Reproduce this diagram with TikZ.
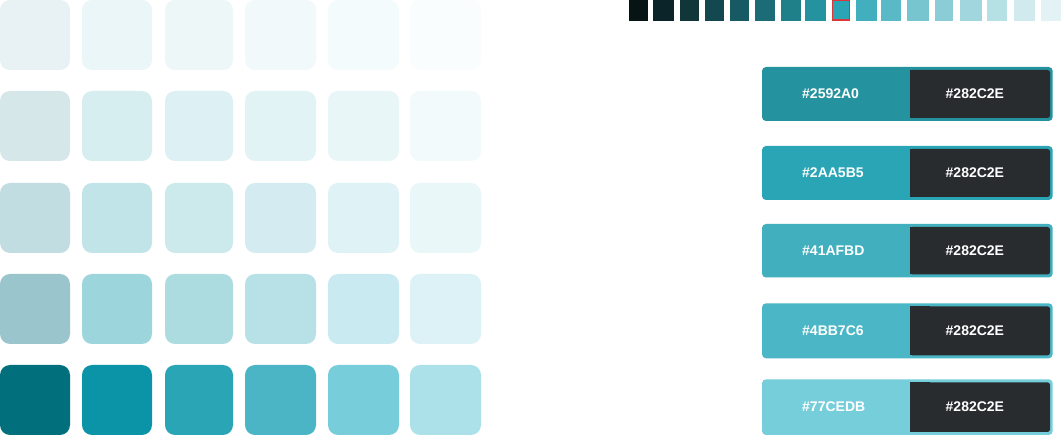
\documentclass[tikz,border=0pt]{standalone}
\usepackage{fontspec}
\setmainfont{Liberation Sans}
\tikzset{
  btntext/.style={text=white, font=\bfseries\fontsize{14}{15}\selectfont, inner sep=0pt, anchor=west},
}
% grid colours
\definecolor{g11}{HTML}{E8F2F4}\definecolor{g12}{HTML}{EAF6F8}\definecolor{g13}{HTML}{EEF7F8}
\definecolor{g14}{HTML}{F1F9FB}\definecolor{g15}{HTML}{F4FBFC}\definecolor{g16}{HTML}{F9FDFE}
\definecolor{g21}{HTML}{D6E7EA}\definecolor{g22}{HTML}{D7EEF0}\definecolor{g23}{HTML}{DDF0F3}
\definecolor{g24}{HTML}{E2F3F6}\definecolor{g25}{HTML}{E9F6F8}\definecolor{g26}{HTML}{F2FAFB}
\definecolor{g31}{HTML}{C2DDE2}\definecolor{g32}{HTML}{C1E4E8}\definecolor{g33}{HTML}{CCE9EC}
\definecolor{g34}{HTML}{D4ECF1}\definecolor{g35}{HTML}{DFF2F5}\definecolor{g36}{HTML}{E9F7F9}
\definecolor{g41}{HTML}{9BC5CC}\definecolor{g42}{HTML}{9CD5DC}\definecolor{g43}{HTML}{ACDCE0}
\definecolor{g44}{HTML}{B7E1E7}\definecolor{g45}{HTML}{C8EAF0}\definecolor{g46}{HTML}{DDF2F6}
\definecolor{g51}{HTML}{026F7C}\definecolor{g52}{HTML}{0B94A7}\definecolor{g53}{HTML}{2AA5B5}
\definecolor{g54}{HTML}{4BB5C6}\definecolor{g55}{HTML}{77CDD9}\definecolor{g56}{HTML}{ADE1EA}
% strip colours
\definecolor{s1}{HTML}{061414}\definecolor{s2}{HTML}{0B2429}\definecolor{s3}{HTML}{10363A}
\definecolor{s4}{HTML}{134850}\definecolor{s5}{HTML}{175A63}\definecolor{s6}{HTML}{1B6C76}
\definecolor{s7}{HTML}{208089}\definecolor{s8}{HTML}{2592A0}\definecolor{s9}{HTML}{2AA5B5}
\definecolor{s10}{HTML}{41AFBD}\definecolor{s11}{HTML}{5AB9C6}\definecolor{s12}{HTML}{77C6CF}
\definecolor{s13}{HTML}{8BCDD6}\definecolor{s14}{HTML}{A2D6DF}\definecolor{s15}{HTML}{B6E1E4}
\definecolor{s16}{HTML}{D0EAEE}\definecolor{s17}{HTML}{E3F3F5}
\definecolor{hilite}{HTML}{D9373A}
% button colours
\definecolor{b1}{HTML}{2592A0}\definecolor{b2}{HTML}{2AA5B5}\definecolor{b3}{HTML}{41AFBD}
\definecolor{b4}{HTML}{4BB7C6}\definecolor{b5}{HTML}{77CEDB}\definecolor{darkbg}{HTML}{282C2E}
\begin{document}
\begin{tikzpicture}[x=1pt,y=-1pt]
\useasboundingbox[fill=white] (0,0) rectangle (1061,435);
% swatch grid
\foreach \r/\y in {1/0,2/91,3/183,4/274,5/365}{
  \foreach \c/\x/\w in {1/0/70,2/82/70,3/165/68,4/245/71,5/328/71,6/410/71}{
    \fill[g\r\c, rounded corners=10pt] (\x,\y) rectangle ++(\w,70);
  }
}
% top strip
\foreach \i/\a/\b in {1/629/648,2/653/674,3/680/699,4/705/724,5/730/749,6/755/775,
  7/781/801,8/805/826,9/832/850,10/856/877,11/881/901,12/907/929,13/935/953,
  14/960/982,15/987/1007,16/1014/1035,17/1041/1061}{
  \fill[s\i] (\a,0) rectangle (\b,20.7);
}
\draw[hilite, line width=1.2pt] (832.6,0.6) rectangle (849.4,20.1);
% buttons
\foreach \k/\ya/\yb/\lab in {1/67/121/2592A0,2/146/200/2AA5B5,3/224/277.5/41AFBD,4/303.3/358.3/4BB7C6,5/379.3/435/77CEDB}{
  \fill[b\k, rounded corners=4pt] (762,\ya) rectangle (1052.7,\yb);
  \fill[darkbg, rounded corners=2.5pt] (910,\ya+3) rectangle (1050,\yb-3);
  \fill[darkbg] (910,\ya+3) rectangle (930,\yb-3);
  \node[btntext] (l\k) at (802,{(\ya+\yb)/2}) {\#\lab};
  \node[btntext] (r\k) at (945.5,{(\ya+\yb)/2}) {\#282C2E};
}
\end{tikzpicture}
\end{document}
